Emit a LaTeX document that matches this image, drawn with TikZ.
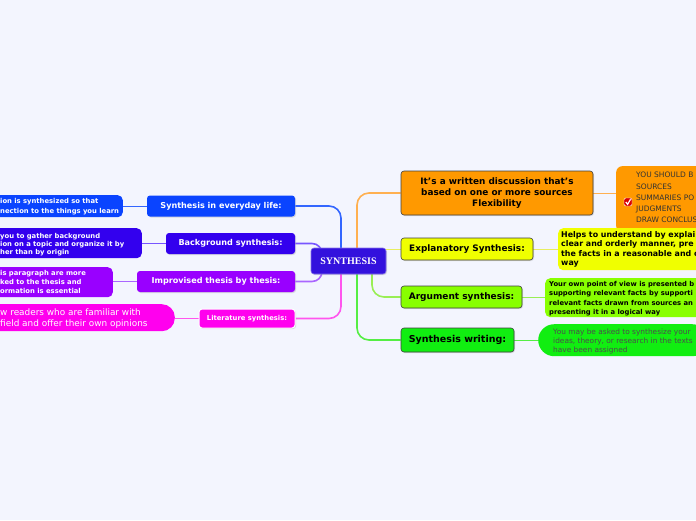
\documentclass[tikz,border=0pt]{standalone}
\usepackage{fontspec}
\setmainfont{DejaVu Sans}
\newfontfamily\serifbf{Liberation Serif}
\usetikzlibrary{shadows}
\pgfdeclarelayer{back}
\pgfsetlayers{back,main}
\definecolor{bgc}{HTML}{F3F5FE}
\definecolor{cC}{HTML}{3311DD}
\definecolor{cO}{HTML}{FF9900}
\definecolor{cY}{HTML}{F0FF00}
\definecolor{cL}{HTML}{88FF00}
\definecolor{cG}{HTML}{11EE11}
\definecolor{cB}{HTML}{0A44FF}
\definecolor{cBg}{HTML}{3300EE}
\definecolor{cV}{HTML}{9900FF}
\definecolor{cP}{HTML}{FF00EE}
\definecolor{lO}{HTML}{FFB050}
\definecolor{lY}{HTML}{E8EE60}
\definecolor{lL}{HTML}{99EE55}
\definecolor{lG}{HTML}{55EE44}
\definecolor{lB}{HTML}{3366FF}
\definecolor{lBg}{HTML}{7755FF}
\definecolor{lV}{HTML}{AA66FF}
\definecolor{lP}{HTML}{FF55EE}
\tikzset{
  mainbox/.style={draw=black!75, line width=0.6pt, rounded corners=3pt, inner sep=0pt, align=center,
    drop shadow={shadow xshift=1pt, shadow yshift=-1pt, opacity=0.25}},
  leftbox/.style={mainbox, text=white, font=\bfseries\fontsize{8.1}{9}\selectfont, draw=none},
  detbox/.style={rounded corners=5pt, inner sep=0pt},
  dettxt/.style={inner sep=0pt, align=left, anchor=north west},
  trunk/.style={line width=1.6pt, rounded corners=12pt},
  link/.style={line width=1pt}
}
\begin{document}
\begin{tikzpicture}[x=1pt,y=-1pt]
\clip (0,0) rectangle (696,520);
\begin{pgfonlayer}{back}
\fill[bgc] (0,0) rectangle (696,520);
\end{pgfonlayer}

% central node
\node[mainbox, fill=cC, draw=cC!60!white, minimum width=75, minimum height=26, text=white,
  font=\serifbf\bfseries\fontsize{10}{11}\selectfont] (ctr) at (348.5,261) {SYNTHESIS};

% right main nodes
\node[mainbox, fill=cO, minimum width=192, minimum height=44,
  font=\bfseries\fontsize{8.9}{10.6}\selectfont] (orange) at (497,193) {It's a written discussion that's\\based on one or more sources\\Flexibility};
\node[mainbox, fill=cY, minimum width=132, minimum height=22,
  font=\bfseries\fontsize{8.9}{9}\selectfont] (yellow) at (467,249) {Explanatory Synthesis:};
\node[mainbox, fill=cL, minimum width=121, minimum height=22,
  font=\bfseries\fontsize{9}{9}\selectfont] (lime) at (461.5,297) {Argument synthesis:};
\node[mainbox, fill=cG, minimum width=113, minimum height=24,
  font=\bfseries\fontsize{9.5}{10}\selectfont] (green) at (457.5,340) {Synthesis writing:};

% right detail boxes
\node[detbox, fill=cO, minimum width=100, minimum height=66, anchor=north west, rounded corners=6pt] (oD) at (616,166) {};
\node[dettxt, text=black!80, font=\fontsize{7.5}{11.3}\selectfont] (oDt) at (636,172) {YOU SHOULD B\\SOURCES\\SUMMARIES PO\\JUDGMENTS\\DRAW CONCLUS};
\node[fill=red!85!black, draw=white, line width=0.4pt, rounded corners=1.5pt, minimum size=8, inner sep=0pt] (chk) at (628,202) {};
\draw[white, line width=1.2pt] (625.8,202) -- (627.6,204.3) -- (630.5,199.3);

\node[detbox, fill=cY, minimum width=160, minimum height=42, anchor=north west] (yD) at (558,228) {};
\node[dettxt, font=\bfseries\fontsize{7.9}{9.5}\selectfont] (yDt) at (561,230.8) {Helps to understand by explai\\clear and orderly manner, pre\\the facts in a reasonable and o\\way};

\node[detbox, fill=cL, minimum width=160, minimum height=39, anchor=north west] (lD) at (545,278) {};
\node[dettxt, font=\bfseries\fontsize{6.8}{9.3}\selectfont] (lDt) at (549,281.3) {Your own point of view is presented b\\supporting relevant facts by supporti\\relevant facts drawn from sources an\\presenting it in a logical way};

\node[detbox, fill=cG, minimum width=170, minimum height=32, anchor=north west, rounded corners=16pt] (gD) at (538,324) {};
\node[dettxt, text=black!70, font=\fontsize{7.4}{8.7}\selectfont] (gDt) at (553,329) {You may be asked to synthesize your\\ideas, theory, or research in the texts\\have been assigned};

% left main nodes
\node[leftbox, fill=cB, minimum width=148, minimum height=21] (blue) at (221,206) {Synthesis in everyday life:};
\node[leftbox, fill=cBg, minimum width=129, minimum height=21] (bg) at (230.5,243.5) {Background synthesis:};
\node[leftbox, fill=cV, minimum width=158, minimum height=21] (violet) at (216,281.5) {Improvised thesis by thesis:};
\node[leftbox, fill=cP, draw=white, line width=1pt, minimum width=96, minimum height=19,
  font=\bfseries\fontsize{6.8}{7}\selectfont] (pink) at (247,318.5) {Literature synthesis:};

% left detail boxes
\node[detbox, fill=cB, minimum width=143, minimum height=22, anchor=north east] (bD) at (123,195) {};
\node[dettxt, text=white, font=\bfseries\fontsize{6.8}{9.7}\selectfont] (bDt) at (0,198.2) {ion is synthesized so that\\nection to the things you learn};

\node[detbox, fill=cBg, minimum width=160, minimum height=30, anchor=north east] (bgD) at (142,228) {};
\node[dettxt, text=white, font=\bfseries\fontsize{6.8}{8.3}\selectfont] (bgDt) at (0,232.8) {you to gather background\\ion on a topic and organize it by\\her than by origin};

\node[detbox, fill=cV, minimum width=140, minimum height=30, anchor=north east] (vD) at (113,267) {};
\node[dettxt, text=white, font=\bfseries\fontsize{6.8}{8.7}\selectfont] (vDt) at (0,270.5) {is paragraph are more\\ked to the thesis and\\ormation is essential};

\node[detbox, fill=cP, minimum width=200, minimum height=27, anchor=north east, rounded corners=13pt] (pD) at (175,304) {};
\node[dettxt, text=white, font=\fontsize{8.9}{10.6}\selectfont] (pDt) at (0,309) {w readers who are familiar with\\ field and offer their own opinions};

% connectors
\coordinate (tO) at (357,255);
\coordinate (tY) at (375,249);
\coordinate (tL) at (372,265);
\coordinate (tG) at (357,268);
\coordinate (tB) at (341,255);
\coordinate (tP) at (341,268);
\coordinate (tBg) at (322,258);
\coordinate (tV) at (322,264);
\begin{pgfonlayer}{back}
\draw[trunk, lO] (tO) |- (orange.west);
\draw[trunk, lY, line width=1pt] (tY) -- (yellow.west);
\draw[trunk, lL] (tL) |- (lime.west);
\draw[trunk, lG] (tG) |- (green.west);
\draw[trunk, lB] (tB) |- (blue.east);
\draw[trunk, lP] (tP) |- (pink.east);
\draw[trunk, lBg, rounded corners=10pt] (bg.east) -| (tBg);
\draw[trunk, lV, rounded corners=10pt] (violet.east) -| (tV);
\draw[link, lO] (orange.east) -- (oD.west |- orange.east);
\draw[link, lY] (yellow.east) -- (yD.west |- yellow.east);
\draw[link, lL] (lime.east) -- (lD.west |- lime.east);
\draw[link, lG] (green.east) -- (gD.west |- green.east);
\draw[link, lB] (blue.west) -- (bD.east |- blue.west);
\draw[link, lBg] (bg.west) -- (bgD.east |- bg.west);
\draw[link, lV] (violet.west) -- (vD.east |- violet.west);
\draw[link, lP] (pink.west) -- (pD.east |- pink.west);
\end{pgfonlayer}
\end{tikzpicture}
\end{document}
